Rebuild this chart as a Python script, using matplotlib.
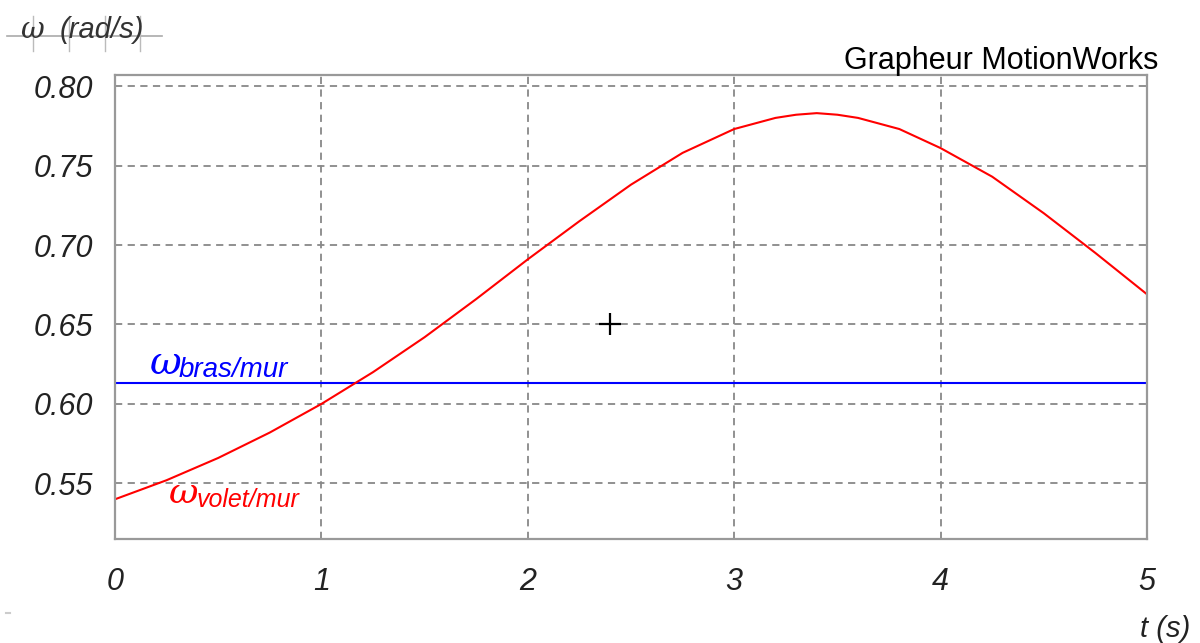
import matplotlib
matplotlib.use("Agg")
import matplotlib.pyplot as plt
from matplotlib.lines import Line2D

# values
t = [0.0, 0.25, 0.5, 0.75, 1.0, 1.25, 1.5, 1.75, 2.0, 2.25, 2.5, 2.75,
     3.0, 3.2, 3.3, 3.4, 3.5, 3.6, 3.8, 4.0, 4.25, 4.5, 4.75, 5.0]
omega_volet = [0.540, 0.552, 0.566, 0.582, 0.600, 0.620, 0.642, 0.666,
               0.691, 0.715, 0.738, 0.758, 0.773, 0.780, 0.782, 0.783,
               0.782, 0.780, 0.773, 0.761, 0.743, 0.720, 0.695, 0.669]
omega_bras = 0.613

x_ticks = [0, 1, 2, 3, 4, 5]
y_ticks = [0.55, 0.60, 0.65, 0.70, 0.75, 0.80]
cursor = (2.4, 0.65)

fig = plt.figure(figsize=(12, 6.43), dpi=100)
ax = fig.add_axes([115 / 1200, 104 / 643, 1032 / 1200, 464 / 643])

ax.set_xlim(0, 5)
ax.set_ylim(0.515, 0.807)
ax.set_xticks(x_ticks)
ax.set_yticks(y_ticks)
ax.set_xticklabels([str(v) for v in x_ticks], fontstyle="italic",
                   family="Liberation Sans", fontsize=22)
ax.set_yticklabels([f"{v:.2f}" for v in y_ticks], fontstyle="italic",
                   family="Liberation Sans", fontsize=22)
ax.tick_params(length=0, pad=16, colors="#222222")
ax.tick_params(axis="x", pad=20)

for s in ax.spines.values():
    s.set_color("#999999")
    s.set_linewidth(1.6)

ax.grid(True, color="#888888", linestyle=(0, (4, 3)), linewidth=1.3)

ax.axhline(omega_bras, color="#0000ff", linewidth=1.5)
ax.plot(t, omega_volet, color="#ff0000", linewidth=1.5)
ax.plot(*cursor, marker="+", color="black", markersize=16, mew=1.6)

# curve labels
ax.text(0.17, 0.619, "\u03c9", color="#0000ff", fontsize=28,
        family="DejaVu Serif", fontstyle="italic", va="baseline")
ax.text(0.31, 0.617, "bras/mur", color="#0000ff", fontsize=20,
        family="Liberation Sans", fontstyle="italic", va="baseline")
ax.text(0.26, 0.5375, "\u03c9", color="#ff0000", fontsize=26,
        family="DejaVu Serif", fontstyle="italic", va="baseline")
ax.text(0.395, 0.535, "volet/mur", color="#ff0000", fontsize=18,
        family="Liberation Sans", fontstyle="italic", va="baseline")

# axis titles
fig.text(20 / 1200, 1 - 38 / 643, "\u03c9", fontsize=21, family="DejaVu Serif",
         fontstyle="italic", color="#333333", va="baseline")
fig.text(60 / 1200, 1 - 38 / 643, "(rad/s)", fontsize=21, family="Liberation Sans",
         fontstyle="italic", color="#333333", va="baseline")
fig.add_artist(Line2D([7 / 1200, 162 / 1200], [1 - 36 / 643, 1 - 36 / 643],
                      color="#aaaaaa", linewidth=1.2))
for px in [33, 69, 105, 140]:
    fig.add_artist(Line2D([px / 1200, px / 1200], [1 - 16 / 643, 1 - 51 / 643],
                          color="#bbbbbb", linewidth=1.0))

fig.text(1158 / 1200, 1 - 69 / 643, "Grapheur MotionWorks", fontsize=22,
         family="Liberation Sans", ha="right", va="baseline", color="black")
fig.text(1190 / 1200, 1 - 637 / 643, "t (s)", fontsize=21, family="Liberation Sans",
         fontstyle="italic", ha="right", va="baseline", color="#222222")
fig.add_artist(Line2D([6 / 1200, 10 / 1200], [1 - 613 / 643, 1 - 613 / 643],
                      color="#cccccc", linewidth=1.5))

fig.savefig("out.png", dpi=100, facecolor="white")
